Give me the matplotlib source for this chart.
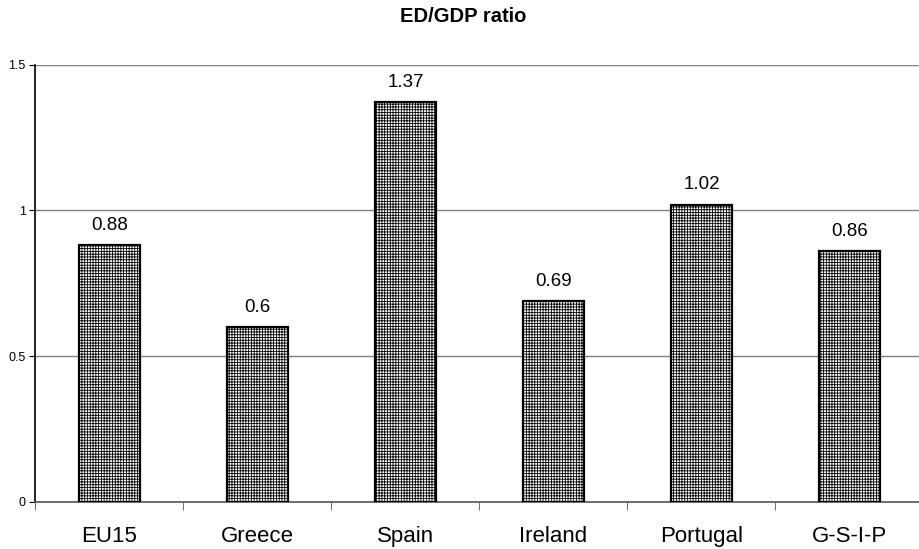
import matplotlib
matplotlib.use("Agg")
import matplotlib.pyplot as plt

categories = ["EU15", "Greece", "Spain", "Ireland", "Portugal", "G-S-I-P"]
values = [0.88, 0.6, 1.37, 0.69, 1.02, 0.86]
yticks = [0, 0.5, 1, 1.5]
ytick_labels = ["0", "0.5", "1", "1.5"]

plt.rcParams["font.family"] = ["Liberation Sans", "DejaVu Sans"]
plt.rcParams["hatch.linewidth"] = 0.6
plt.rcParams["hatch.color"] = "black"

W, H = 920, 549
fig = plt.figure(figsize=(W / 100, H / 100), dpi=100)
ax = fig.add_axes([35.5 / W, 1 - 502 / H, 888 / W, 437.5 / H])

x = list(range(len(categories)))
ax.bar(x, values, width=0.415, facecolor="white", edgecolor="black",
       linewidth=1.6, hatch="++++++", zorder=3)

for xi, v in zip(x, values):
    ax.text(xi, v + 0.052, f"{v:g}", ha="center", va="baseline", fontsize=13.5)

ax.set_xlim(-0.5, len(categories) - 0.5)
ax.set_ylim(0, 1.5)
ax.set_yticks(yticks)
ax.set_yticklabels(ytick_labels, fontsize=9)
ax.set_xticks(x)
ax.set_xticklabels(categories, fontsize=16)
ax.tick_params(axis="x", length=0, pad=17)
ax.set_xticks([i + 0.5 for i in range(len(categories) - 1)] + [-0.5], minor=True)
ax.tick_params(axis="x", which="minor", length=6, direction="out", color="#555555")
ax.tick_params(axis="y", length=4, direction="out", pad=3)

ax.yaxis.grid(True, color="#808080", linewidth=1.0, zorder=0)
ax.set_axisbelow(True)
for side in ("top", "right"):
    ax.spines[side].set_visible(False)
ax.spines["left"].set_color("black")
ax.spines["left"].set_linewidth(1.2)
ax.spines["bottom"].set_color("#555555")
ax.spines["bottom"].set_linewidth(1.2)

fig.text(463 / W, 1 - 17 / H, "ED/GDP ratio", ha="center", va="center",
         fontsize=14.5, fontweight="bold")

fig.savefig("out.png", dpi=100)
